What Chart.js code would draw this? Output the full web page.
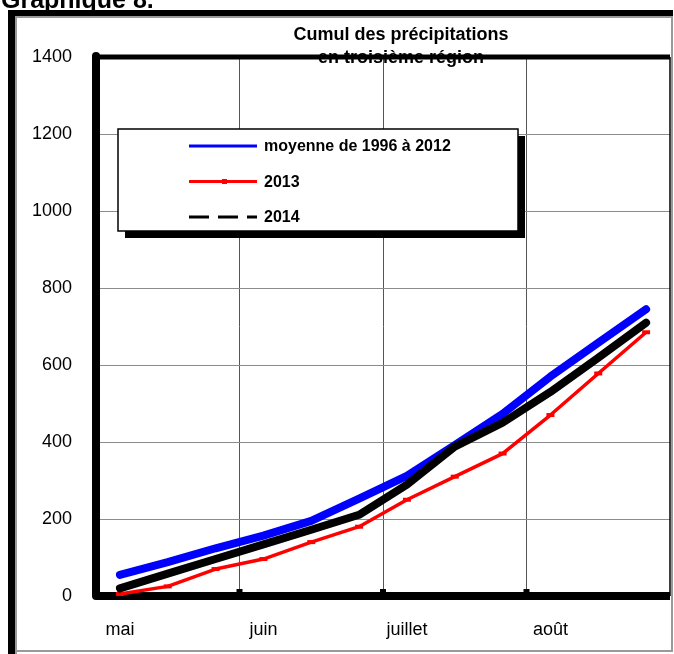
<!DOCTYPE html>
<html>
<head>
<meta charset="utf-8">
<script src="https://cdn.jsdelivr.net/npm/chart.js@4"></script>
<style>
  html, body { margin: 0; padding: 0; background: #fff; }
  #wrap { position: relative; width: 674px; height: 654px; }
</style>
</head>
<body>
<div id="wrap"><canvas id="rainChart" width="674" height="654"></canvas></div>
<script>
// decades from May to August, labelled at each month start
const decades = ['mai', '', '', 'juin', '', '', 'juillet', '', '', 'août', '', ''];
const moyenne = [55, 88, 124, 157, 195, 253, 312, 392, 473, 570, 658, 745];
const an2013 = [5, 25, 70, 96, 140, 180, 250, 310, 370, 470, 578, 685];
const an2014 = [20, 58, 96, 134, 172, 211, 289, 388, 450, 530, 619, 710];
const yTicks = [0, 200, 400, 600, 800, 1000, 1200, 1400];

const legendItems = [
    { text: 'moyenne de 1996 à 2012', color: '#0000ff', dash: [], marker: false },
    { text: '2013', color: '#ff0000', dash: [], marker: true },
    { text: '2014', color: '#000000', dash: [20, 9], marker: false }
];

const FONT = '"Liberation Sans", Arial, sans-serif';

const framePlugin = {
    id: 'frame',
    beforeDraw(chart) {
        const ctx = chart.ctx;
        ctx.save();
        ctx.fillStyle = '#fff';
        ctx.fillRect(0, 0, chart.width, chart.height);
        // outer frame
        ctx.fillStyle = '#000';
        ctx.fillRect(8, 10, 7, chart.height - 10);
        ctx.fillRect(8, 10, 665, 6);
        ctx.strokeStyle = '#9a9a9a';
        ctx.lineWidth = 2;
        ctx.beginPath();
        ctx.moveTo(16, chart.height);
        ctx.lineTo(16, 17);
        ctx.lineTo(672, 17);
        ctx.lineTo(672, 651);
        ctx.lineTo(16, 651);
        ctx.stroke();
        // page heading, cut by the top of the picture
        ctx.fillStyle = '#000';
        ctx.font = 'bold 25px ' + FONT;
        ctx.textBaseline = 'alphabetic';
        ctx.fillText('Graphique 8.', 1, 8);
        ctx.restore();
    },
    beforeDatasetsDraw(chart) {
        const ctx = chart.ctx;
        const a = chart.chartArea;
        ctx.save();
        ctx.strokeStyle = '#000';
        ctx.lineJoin = 'round';
        ctx.lineCap = 'butt';
        ctx.lineWidth = 5;
        ctx.beginPath();
        ctx.moveTo(a.left, a.top);
        ctx.lineTo(a.right, a.top);
        ctx.stroke();
        ctx.lineWidth = 8;
        ctx.beginPath();
        ctx.moveTo(a.left, a.top - 2);
        ctx.lineTo(a.left, a.bottom);
        ctx.lineTo(a.right, a.bottom);
        ctx.stroke();
        ctx.fillStyle = '#000';
        ctx.beginPath();
        ctx.arc(a.left, a.top - 1, 4, 0, Math.PI * 2);
        ctx.fill();
        ctx.lineWidth = 1.5;
        ctx.beginPath();
        ctx.moveTo(a.right, a.top);
        ctx.lineTo(a.right, a.bottom);
        ctx.stroke();
        // small tick marks on the month boundaries
        [3, 6, 9].forEach(i => {
            const x = (chart.scales.x.getPixelForValue(i) + chart.scales.x.getPixelForValue(i - 1)) / 2;
            ctx.fillRect(x - 3, a.bottom - 7, 6, 4);
        });
        ctx.restore();
    },
    afterDatasetsDraw(chart) {
        const ctx = chart.ctx;
        ctx.save();
        // legend box with shadow
        const bx = 118, by = 129, bw = 400, bh = 102;
        ctx.fillStyle = '#000';
        ctx.fillRect(bx + 7, by + 7, bw, bh);
        ctx.fillStyle = '#fff';
        ctx.fillRect(bx, by, bw, bh);
        ctx.strokeStyle = '#000';
        ctx.lineWidth = 1.5;
        ctx.strokeRect(bx, by, bw, bh);
        ctx.font = 'bold 16px ' + FONT;
        ctx.textBaseline = 'middle';
        legendItems.forEach((item, i) => {
            const y = 146 + i * 35.5;
            ctx.strokeStyle = item.color;
            ctx.lineWidth = 3;
            ctx.setLineDash(item.dash);
            ctx.beginPath();
            ctx.moveTo(189, y);
            ctx.lineTo(257, y);
            ctx.stroke();
            ctx.setLineDash([]);
            if (item.marker) {
                ctx.fillStyle = item.color;
                ctx.fillRect(222, y - 2.5, 5, 5);
            }
            ctx.fillStyle = '#000';
            ctx.fillText(item.text, 264, y + 1);
        });
        // title
        ctx.font = 'bold 18px ' + FONT;
        ctx.textAlign = 'center';
        ctx.fillText('Cumul des précipitations', 401, 35);
        ctx.fillText('en troisième région', 401, 58);
        ctx.restore();
    }
};

const ctx = document.getElementById('rainChart');
new Chart(ctx, {
    type: 'line',
    data: {
        labels: decades,
        datasets: [
            {
                label: 'moyenne de 1996 à 2012',
                data: moyenne,
                borderColor: '#0000ff',
                borderWidth: 8,
                borderCapStyle: 'round',
                borderJoinStyle: 'round',
                pointRadius: 0,
                tension: 0,
                order: 3
            },
            {
                label: '2013',
                data: an2013,
                borderColor: '#ff0000',
                backgroundColor: '#ff0000',
                borderWidth: 3.5,
                borderJoinStyle: 'round',
                pointStyle: 'line',
                pointRadius: 4,
                pointBorderWidth: 4,
                pointBorderColor: '#ff0000',
                tension: 0,
                order: 2
            },
            {
                label: '2014',
                data: an2014,
                borderColor: '#000000',
                borderWidth: 8,
                borderCapStyle: 'round',
                borderJoinStyle: 'round',
                pointRadius: 0,
                tension: 0,
                order: 1
            }
        ]
    },
    options: {
        responsive: false,
        animation: false,
        events: [],
        layout: { autoPadding: false, padding: { top: 57, right: 4, bottom: 0, left: 0 } },
        plugins: {
            legend: { display: false },
            title: { display: false },
            tooltip: { enabled: false }
        },
        scales: {
            x: {
                type: 'category',
                offset: true,
                afterFit: s => { s.height = 58; s.paddingLeft = 0; s.paddingRight = 0; },
                border: { display: false },
                grid: {
                    offset: true,
                    drawTicks: false,
                    lineWidth: 1,
                    color: c => (c.index % 3 === 0 ? '#555555' : 'rgba(0,0,0,0)')
                },
                ticks: {
                    autoSkip: false,
                    maxRotation: 0,
                    padding: 23,
                    color: '#000',
                    font: { family: FONT, size: 18 }
                }
            },
            y: {
                min: 0,
                max: 1400,
                afterFit: s => { s.width = 96; s.paddingTop = 0; s.paddingBottom = 0; },
                afterBuildTicks: s => { s.ticks = yTicks.map(v => ({ value: v })); },
                border: { display: false },
                grid: { drawTicks: false, color: '#8c8c8c', lineWidth: 1 },
                ticks: {
                    padding: 24,
                    color: '#000',
                    font: { family: FONT, size: 18 },
                    callback: v => String(v)
                }
            }
        }
    },
    plugins: [framePlugin]
});
</script>
</body>
</html>
